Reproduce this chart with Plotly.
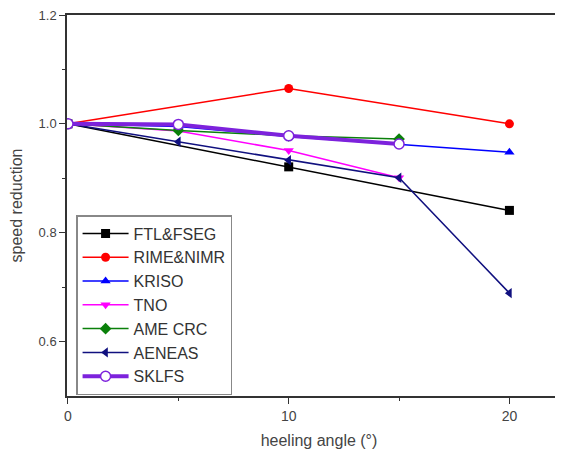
import plotly.graph_objects as go

names = ["FTL&FSEG", "RIME&NIMR", "KRISO", "TNO", "AME CRC", "AENEAS", "SKLFS"]
x_ftl = [0, 10, 20]
y_ftl = [1.0, 0.921, 0.841]
x_rime = [0, 10, 20]
y_rime = [1.0, 1.065, 1.0]
x_kriso = [0, 5, 10, 15, 20]
y_kriso = [1.0, 0.995, 0.977, 0.962, 0.948]
x_tno = [0, 5, 10, 15]
y_tno = [1.0, 0.987, 0.951, 0.901]
x_ame = [0, 5, 10, 15]
y_ame = [1.0, 0.988, 0.978, 0.972]
x_aeneas = [0, 5, 10, 15, 20]
y_aeneas = [1.0, 0.967, 0.933, 0.901, 0.689]
x_sklfs = [0, 5, 10, 15]
y_sklfs = [1.0, 0.999, 0.978, 0.963]

colors = ["#000000", "#ff0000", "#0000ff", "#ff00ff", "#0a800a", "#10107f", "#7d22dc"]
symbols = ["square", "circle", "triangle-up", "triangle-down", "diamond", "triangle-left", "circle-open"]
xs = [x_ftl, x_rime, x_kriso, x_tno, x_ame, x_aeneas, x_sklfs]
ys = [y_ftl, y_rime, y_kriso, y_tno, y_ame, y_aeneas, y_sklfs]

fig = go.Figure()
for i, n in enumerate(names):
    is_sk = n == "SKLFS"
    if is_sk:
        marker = dict(symbol="circle", size=10, color="white",
                      line=dict(color=colors[i], width=1.5))
        line = dict(color=colors[i], width=4)
    else:
        marker = dict(symbol=symbols[i], size=9, color=colors[i],
                      line=dict(width=0))
        line = dict(color=colors[i], width=1.5)
    fig.add_trace(go.Scatter(x=xs[i], y=ys[i], name=n, mode="lines+markers",
                             marker=marker, line=line))

axis_col = "#333333"
fig.update_layout(
    width=563, height=449,
    margin=dict(l=59, r=0, t=7, b=61, autoexpand=False),
    plot_bgcolor="white", paper_bgcolor="white",
    font=dict(family="Liberation Sans, Arial, sans-serif", color="#444444"),
    showlegend=True,
    legend=dict(x=0.018, y=0.475, xanchor="left", yanchor="top",
                bordercolor="#888888", borderwidth=1.5, bgcolor="white",
                font=dict(size=16, color="#333333"), itemwidth=46,
                tracegroupgap=0),
    xaxis=dict(range=[-0.045, 22.79], tickvals=[0, 10, 20], ticks="outside",
               ticklen=6, tickwidth=1.2, tickcolor=axis_col,
               minor=dict(tickvals=[5, 15], ticks="outside", ticklen=3, tickcolor=axis_col),
               showline=True, linecolor=axis_col, linewidth=1.5, mirror=True,
               showgrid=False, zeroline=False, automargin=False,
               ticklabeloverflow="allow",
               tickfont=dict(size=14),
               title=dict(text="heeling angle (°)", font=dict(size=16), standoff=12)),
    yaxis=dict(range=[0.5, 1.2], tickvals=[0.6, 0.8, 1.0, 1.2], ticktext=["0.6", "0.8", "1.0", "1.2"],
               ticks="outside", ticklen=6, tickwidth=1.2, tickcolor=axis_col,
               minor=dict(tickvals=[0.7, 0.9, 1.1], ticks="outside", ticklen=3, tickcolor=axis_col),
               showline=True, linecolor=axis_col, linewidth=1.5,
               showgrid=False, zeroline=False, automargin=False,
               ticklabeloverflow="allow",
               tickfont=dict(size=13),
               title=dict(text="speed reduction", font=dict(size=16), standoff=14)),
)
fig.write_html("out.html")
